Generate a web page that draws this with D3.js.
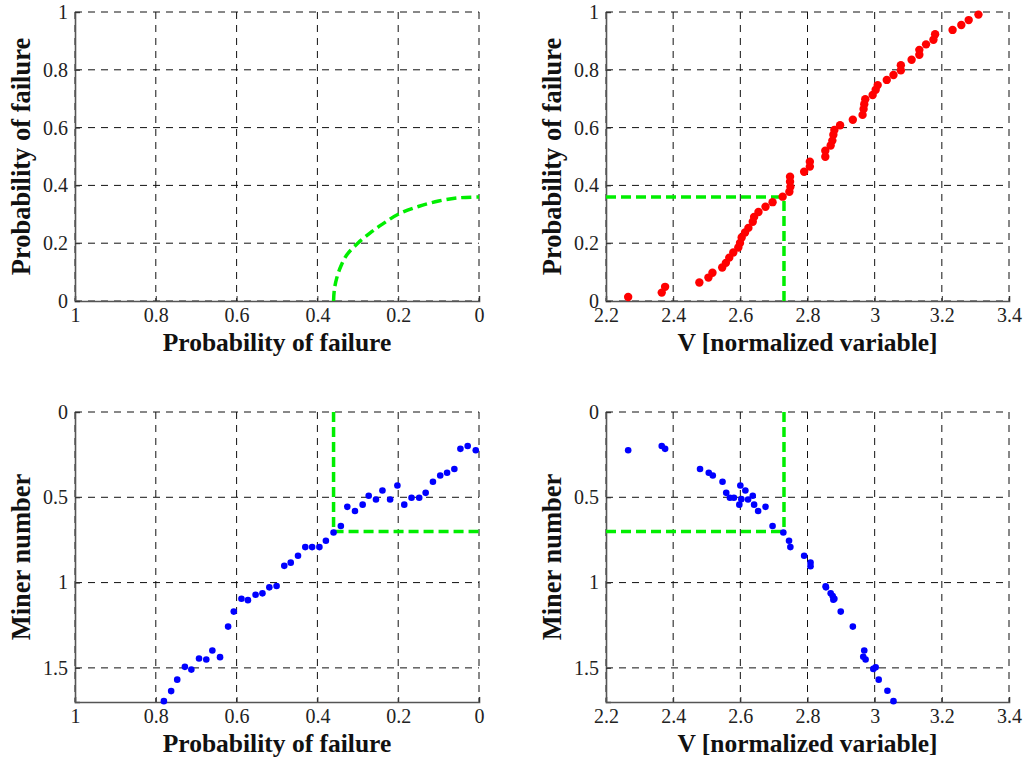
<!DOCTYPE html>
<html><head><meta charset="utf-8">
<script src="https://cdn.jsdelivr.net/npm/d3@7"></script>
<style>
body{margin:0;background:#fff;}
svg{display:block;}
</style></head><body>
<svg id="c" width="1024" height="760"></svg>
<script>
// ---------- data ----------
const probTicks = [1, 0.8, 0.6, 0.4, 0.2, 0];
const probYTicks = [0, 0.2, 0.4, 0.6, 0.8, 1];
const vTicks = [2.2, 2.4, 2.6, 2.8, 3, 3.2, 3.4];
const minerTicks = [0, 0.5, 1, 1.5];

// top-left green mapping curve
const curveX = [0.36, 0.358, 0.352, 0.342, 0.327, 0.30, 0.27, 0.24, 0.20, 0.15, 0.10, 0.05, 0.0];
const curveY = [0.0, 0.04, 0.08, 0.12, 0.16, 0.20, 0.235, 0.265, 0.30, 0.327, 0.346, 0.357, 0.36];

// top-right: V vs probability of failure (red)
const vRed = [2.266,2.366,2.376,2.478,2.505,2.517,2.546,2.557,2.567,2.579,2.594,2.599,2.604,2.614,2.624,2.637,2.641,2.654,2.675,2.696,2.726,2.746,2.749,2.748,2.748,2.790,2.807,2.807,2.853,2.853,2.869,2.874,2.877,2.880,2.897,2.935,2.964,2.967,2.969,2.972,2.994,3.003,3.009,3.036,3.056,3.078,3.078,3.110,3.133,3.133,3.153,3.175,3.180,3.232,3.258,3.280,3.309];
const pRed = [0.014,0.029,0.049,0.064,0.081,0.098,0.116,0.132,0.150,0.168,0.185,0.201,0.220,0.237,0.253,0.274,0.291,0.308,0.326,0.342,0.361,0.378,0.395,0.413,0.430,0.447,0.465,0.482,0.499,0.520,0.538,0.555,0.575,0.592,0.608,0.627,0.644,0.664,0.681,0.698,0.713,0.731,0.747,0.765,0.782,0.798,0.816,0.835,0.852,0.869,0.888,0.904,0.923,0.938,0.955,0.972,0.991];

// bottom-left: probability vs miner number (blue)
const pBlue = [0.780,0.762,0.747,0.728,0.712,0.693,0.675,0.660,0.641,0.621,0.607,0.588,0.572,0.553,0.536,0.519,0.501,0.482,0.466,0.448,0.430,0.413,0.395,0.379,0.360,0.342,0.326,0.307,0.288,0.273,0.255,0.239,0.220,0.202,0.185,0.167,0.148,0.132,0.114,0.096,0.079,0.061,0.046,0.028,0.008];
const mBlueP = [1.695,1.636,1.569,1.494,1.510,1.445,1.451,1.398,1.437,1.258,1.170,1.095,1.103,1.071,1.063,1.028,1.020,0.902,0.883,0.843,0.792,0.792,0.792,0.755,0.706,0.668,0.556,0.580,0.543,0.491,0.513,0.460,0.513,0.431,0.543,0.503,0.503,0.474,0.409,0.372,0.356,0.334,0.216,0.199,0.224];

// bottom-right: V vs miner number (blue)
const vBlue = [2.266,2.366,2.376,2.480,2.506,2.518,2.547,2.558,2.569,2.581,2.597,2.600,2.603,2.615,2.623,2.637,2.641,2.653,2.675,2.696,2.728,2.745,2.749,2.790,2.809,2.809,2.854,2.855,2.869,2.875,2.877,2.880,2.899,2.935,2.969,2.966,2.973,2.996,3.003,3.012,3.038,3.056];
const mBlueV = [0.224,0.199,0.216,0.334,0.356,0.372,0.409,0.474,0.503,0.503,0.543,0.431,0.511,0.460,0.513,0.491,0.543,0.580,0.556,0.668,0.706,0.755,0.792,0.843,0.883,0.904,1.022,1.028,1.063,1.079,1.101,1.095,1.170,1.258,1.398,1.435,1.451,1.506,1.496,1.569,1.634,1.695];

// green guide lines
const pStar = 0.36, vStar = 2.73, mStar = 0.70;

// ---------- drawing ----------
const svg = d3.select("#c");
const fmt = d => (d === 0 ? "0" : d === 1 ? "1" : d3.format("~g")(d));
const SERIF = '"Liberation Serif"';

function panel(o) {
  const x = d3.scaleLinear().domain(o.xd).range([o.x0, o.x1]);
  const y = d3.scaleLinear().domain(o.yd).range([o.y1, o.y0]);
  const g = svg.append("g");
  // grid
  g.append("g").selectAll("line").data(o.xt).join("line")
    .attr("x1", d => x(d)).attr("x2", d => x(d)).attr("y1", o.y0).attr("y2", o.y1)
    .attr("stroke", "#111").attr("stroke-width", 1).attr("stroke-dasharray", "7,6");
  g.append("g").selectAll("line").data(o.yt).join("line")
    .attr("y1", d => y(d)).attr("y2", d => y(d)).attr("x1", o.x0).attr("x2", o.x1)
    .attr("stroke", "#111").attr("stroke-width", 1).attr("stroke-dasharray", "7,6");
  // axes
  const ax = g.append("g").attr("transform", `translate(0,${o.y1})`)
    .call(d3.axisBottom(x).tickValues(o.xt).tickFormat(fmt).tickSize(-5).tickPadding(10));
  const ay = g.append("g").attr("transform", `translate(${o.x0},0)`)
    .call(d3.axisLeft(y).tickValues(o.yt).tickFormat(fmt).tickSize(-5).tickPadding(7));
  [ax, ay].forEach(a => {
    a.attr("font-family", SERIF).attr("font-size", 20);
    a.select(".domain").attr("stroke", "#555").attr("stroke-width", 1.6);
    a.selectAll(".tick line").attr("stroke", "#333");
    a.selectAll("text").attr("font-family", SERIF).attr("font-size", 20).attr("fill", "#222");
  });
  ax.selectAll("text").attr("dy", "0.72em").attr("y", 7);
  // labels
  g.append("text").attr("x", (o.x0 + o.x1) / 2).attr("y", o.y1 + 50)
    .attr("text-anchor", "middle").attr("font-family", SERIF).attr("font-size", 25.5)
    .attr("font-weight", "bold").attr("fill", "#111")
    .text(o.xl);
  g.append("text").attr("transform", `translate(${o.x0 - 45},${(o.y0 + o.y1) / 2}) rotate(-90)`)
    .attr("text-anchor", "middle").attr("font-family", SERIF).attr("font-size", 26.5)
    .attr("font-weight", "bold").attr("fill", "#111")
    .text(o.yl);
  return {g, x, y};
}

const green = {stroke: "#00ee00", w: 3.5, dash: "10,5"};
function gline(p, pts) {
  p.g.append("path").datum(pts)
    .attr("d", d3.line().x(d => p.x(d[0])).y(d => p.y(d[1])))
    .attr("fill", "none").attr("stroke", green.stroke).attr("stroke-width", green.w)
    .attr("stroke-dasharray", green.dash);
}

// top-left
const p1 = panel({x0: 75, x1: 479, y0: 12, y1: 301, xd: [1, 0], yd: [0, 1],
  xt: probTicks, yt: probYTicks, xl: "Probability of failure", yl: "Probability of failure"});
p1.g.append("path").datum(d3.zip(curveX, curveY))
  .attr("d", d3.line().x(d => p1.x(d[0])).y(d => p1.y(d[1])).curve(d3.curveCatmullRom))
  .attr("fill", "none").attr("stroke", green.stroke).attr("stroke-width", green.w)
  .attr("stroke-dasharray", green.dash);

// top-right
const p2 = panel({x0: 606, x1: 1009, y0: 12, y1: 301, xd: [2.2, 3.4], yd: [0, 1],
  xt: vTicks, yt: probYTicks, xl: "V [normalized variable]", yl: "Probability of failure"});
gline(p2, [[2.2, pStar], [vStar, pStar]]);
gline(p2, [[vStar, 0], [vStar, pStar]]);
p2.g.append("g").selectAll("circle").data(d3.zip(vRed, pRed)).join("circle")
  .attr("cx", d => p2.x(d[0])).attr("cy", d => p2.y(d[1])).attr("r", 4.2).attr("fill", "#ff0000");

// bottom-left
const p3 = panel({x0: 75, x1: 479, y0: 412, y1: 702, xd: [1, 0], yd: [1.7, 0],
  xt: probTicks, yt: minerTicks, xl: "Probability of failure", yl: "Miner number"});
gline(p3, [[pStar, 0], [pStar, mStar]]);
gline(p3, [[pStar, mStar], [0, mStar]]);
p3.g.append("g").selectAll("circle").data(d3.zip(pBlue, mBlueP)).join("circle")
  .attr("cx", d => p3.x(d[0])).attr("cy", d => p3.y(d[1])).attr("r", 3.3).attr("fill", "#0000ff");

// bottom-right
const p4 = panel({x0: 606, x1: 1009, y0: 412, y1: 702, xd: [2.2, 3.4], yd: [1.7, 0],
  xt: vTicks, yt: minerTicks, xl: "V [normalized variable]", yl: "Miner number"});
gline(p4, [[vStar, 0], [vStar, mStar]]);
gline(p4, [[2.2, mStar], [vStar, mStar]]);
p4.g.append("g").selectAll("circle").data(d3.zip(vBlue, mBlueV)).join("circle")
  .attr("cx", d => p4.x(d[0])).attr("cy", d => p4.y(d[1])).attr("r", 3.3).attr("fill", "#0000ff");
</script>
</body></html>
